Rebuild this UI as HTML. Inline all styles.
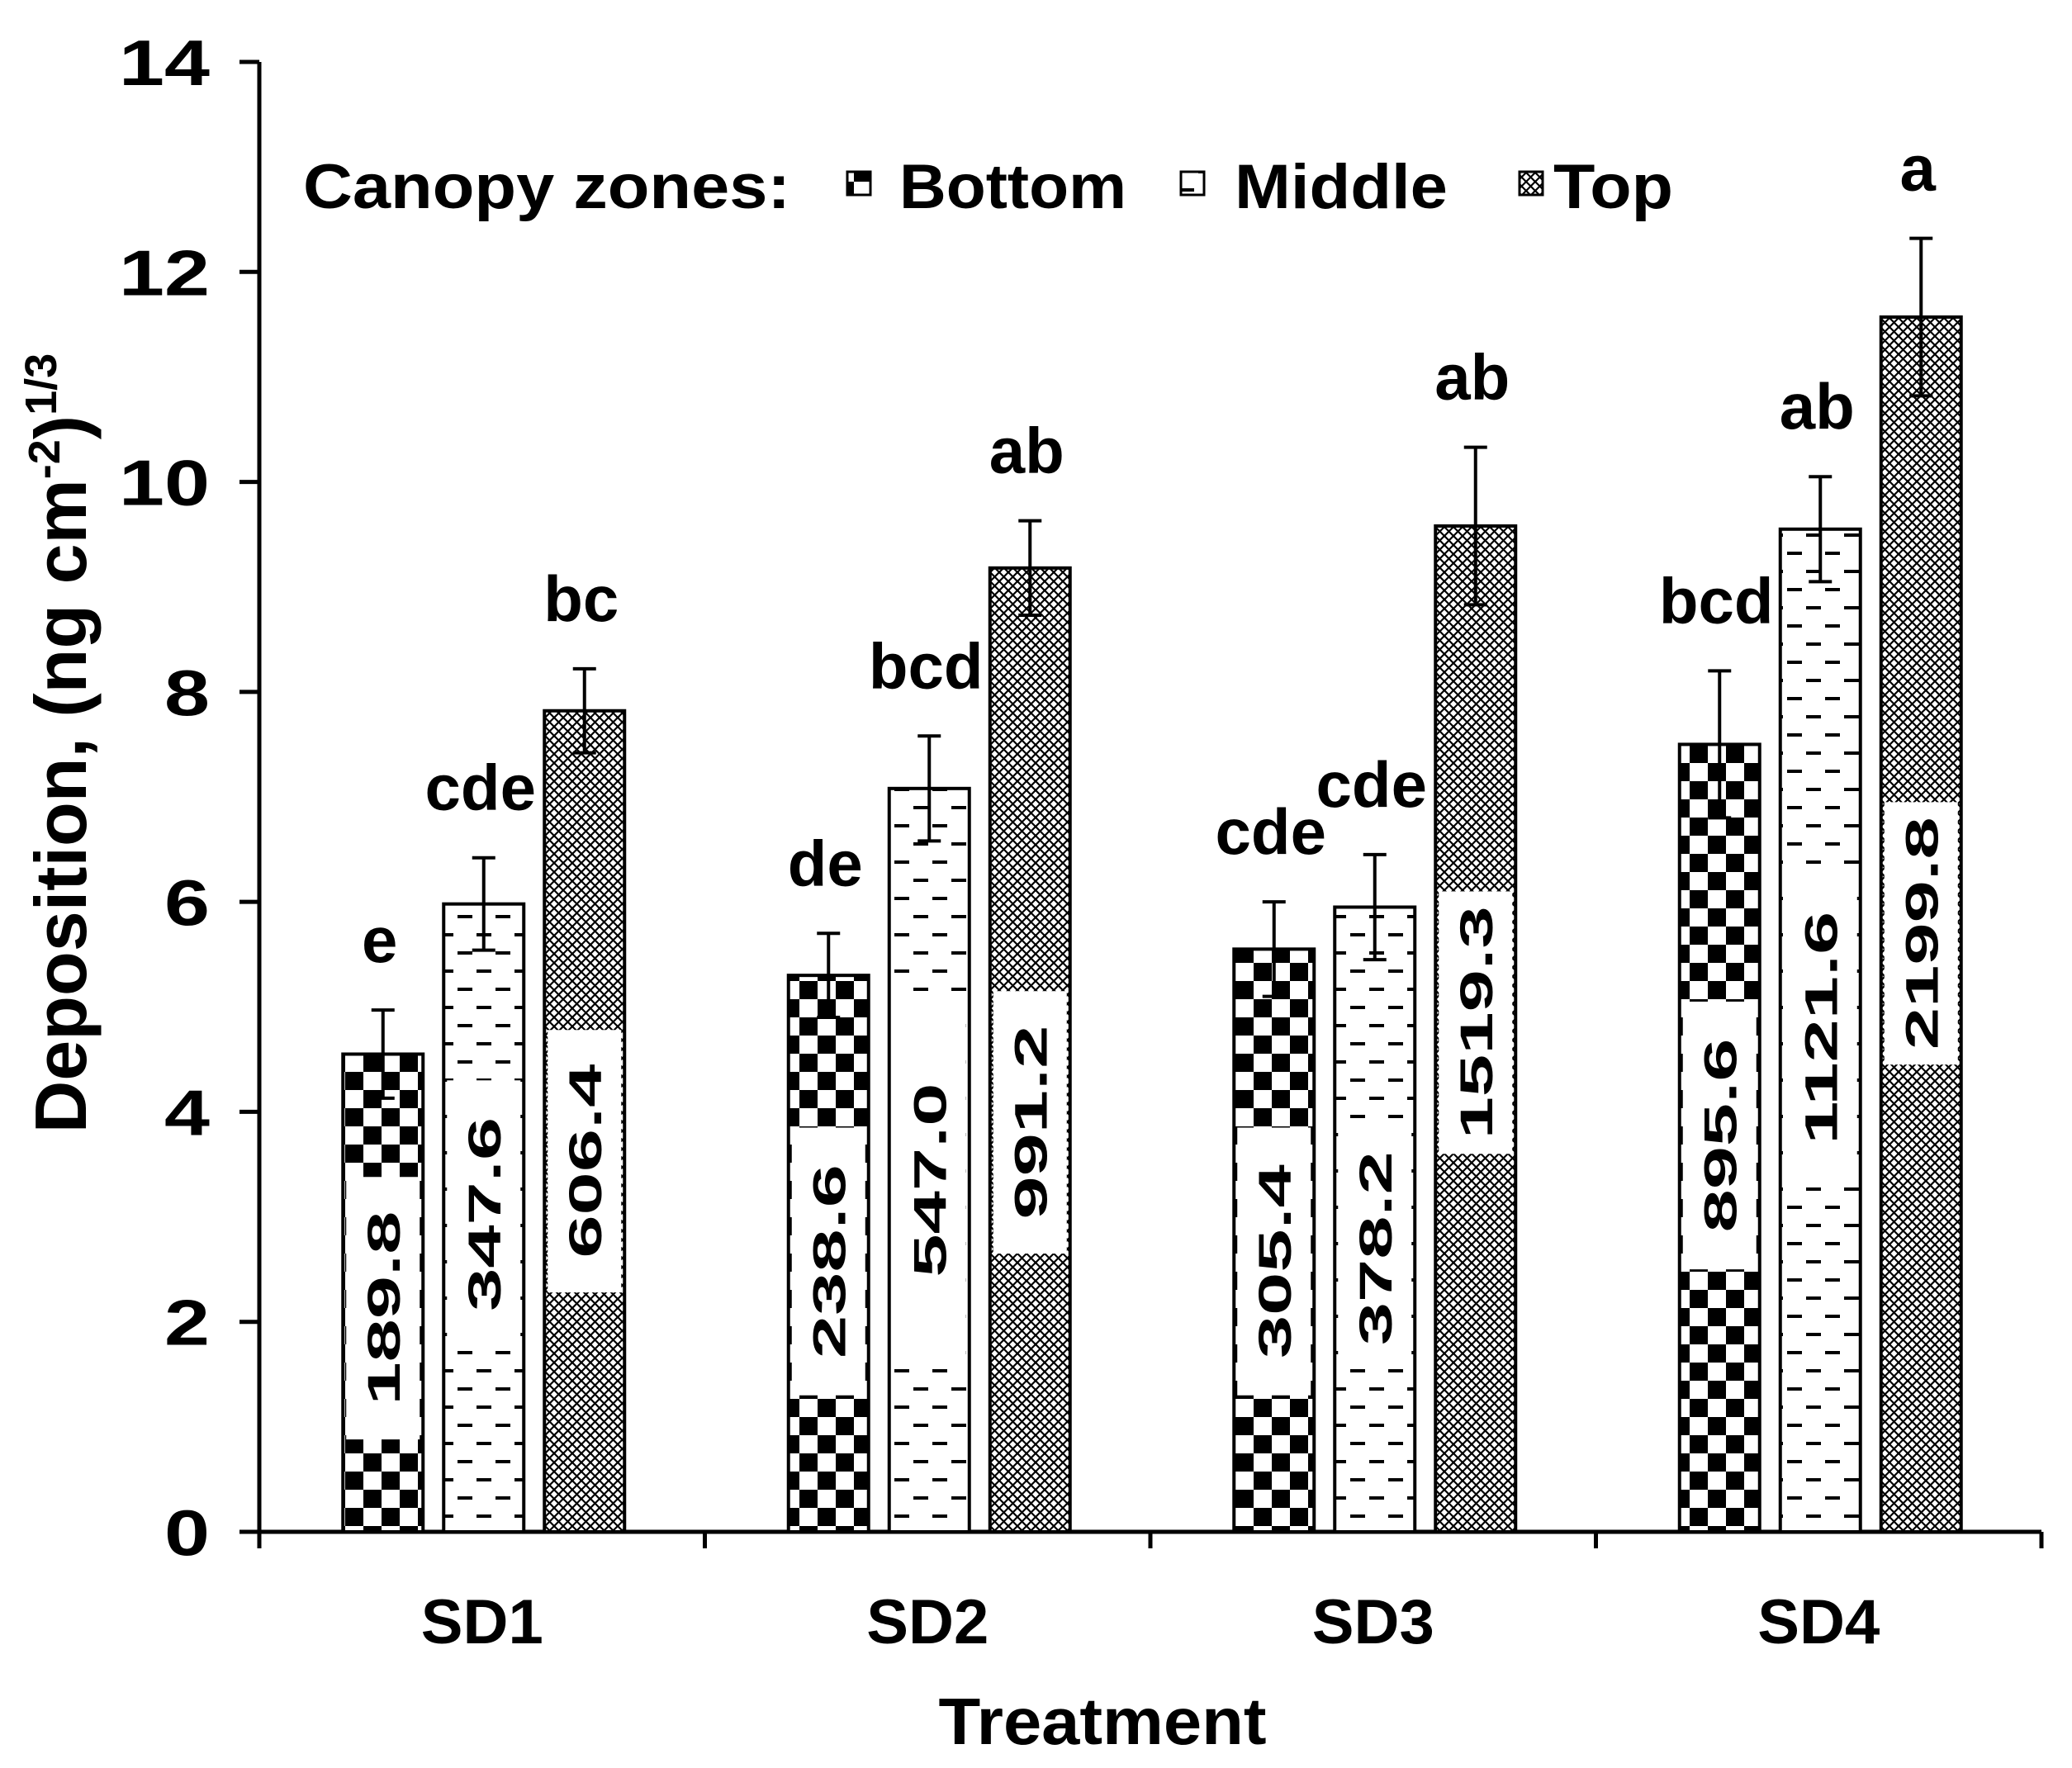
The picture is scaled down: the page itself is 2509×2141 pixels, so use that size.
<!DOCTYPE html>
<html><head><meta charset="utf-8"><style>
html,body{margin:0;padding:0;background:#fff;}
svg{display:block;font-family:"Liberation Sans",Arial,sans-serif;}
</style></head><body>
<svg id="chart" width="2509" height="2141" viewBox="0 0 2509 2141">
<defs>
<pattern id="pBottom" patternUnits="userSpaceOnUse" width="44" height="44">
<rect width="44" height="44" fill="#fff"/><rect width="22" height="22" fill="#000"/><rect x="22" y="22" width="22" height="22" fill="#000"/>
</pattern>
<pattern id="pMiddle" patternUnits="userSpaceOnUse" width="46" height="44">
<rect width="46" height="44" fill="#fff"/><rect x="2" y="8" width="18" height="4" fill="#000"/><rect x="25" y="30" width="18" height="4" fill="#000"/>
</pattern>
<pattern id="pTop" patternUnits="userSpaceOnUse" width="11" height="11">
<rect width="11" height="11" fill="#fff"/><path d="M0 0L11 11M11 0L0 11" stroke="#000" stroke-width="2.2"/>
</pattern>
</defs>
<g id="axes"></g>
<g id="bars"></g>
<g id="legend">
<text x="367" y="252" font-size="76" font-weight="bold" textLength="590" lengthAdjust="spacingAndGlyphs">Canopy zones:</text>
<g><rect x="1026" y="208" width="28" height="28" fill="url(#pBottom)" stroke="#000" stroke-width="3"/><text x="1089" y="252" font-size="76" font-weight="bold" textLength="275" lengthAdjust="spacingAndGlyphs">Bottom</text></g>
<g><rect x="1430" y="208" width="28" height="28" fill="url(#pMiddle)" stroke="#000" stroke-width="3"/><text x="1495" y="252" font-size="76" font-weight="bold" textLength="258" lengthAdjust="spacingAndGlyphs">Middle</text></g>
<g><rect x="1840" y="208" width="28" height="28" fill="url(#pTop)" stroke="#000" stroke-width="3"/><text x="1881" y="252" font-size="76" font-weight="bold" textLength="145" lengthAdjust="spacingAndGlyphs">Top</text></g>
</g>
<text x="1335" y="2112" font-size="80" font-weight="bold" text-anchor="middle" textLength="397" lengthAdjust="spacingAndGlyphs">Treatment</text>
<text transform="translate(104,900) rotate(-90)" font-size="88" font-weight="bold" text-anchor="middle">Deposition, (ng cm<tspan font-size="54" dy="-32">-2</tspan><tspan dy="32">)</tspan><tspan font-size="54" dy="-36">1/3</tspan></text>
</svg>
<script>
const categories = ["SD1","SD2","SD3","SD4"];
const zones = ["bottom","middle","top"];
const bottomVals = [4.55,5.3,5.55,7.5];
const middleVals = [5.98,7.08,5.95,9.55];
const topVals = [7.82,9.18,9.58,11.57];
const bottomErr = [0.42,0.4,0.45,0.7];
const middleErr = [0.44,0.5,0.5,0.5];
const topErr = [0.4,0.45,0.75,0.75];
const bottomLetters = ["e","de","cde","bcd"];
const middleLetters = ["cde","bcd","cde","ab"];
const topLetters = ["bc","ab","ab","a"];
const bottomLabels = ["189.8","238.6","305.4","895.6"];
const middleLabels = ["347.6","547.0","378.2","1121.6"];
const topLabels = ["606.4","991.2","1519.3","2199.8"];
const bottomBoxLo = [0.88,1.3,1.3,2.5];
const bottomBoxHi = [3.38,3.85,3.85,5.05];
const middleBoxLo = [1.75,1.6,1.55,3.3];
const middleBoxHi = [4.3,5.1,3.85,6.3];
const topBoxLo = [2.28,2.65,3.6,4.45];
const topBoxHi = [4.78,5.15,6.1,6.95];
const yTicks = [0,2,4,6,8,10,12,14];

const NS="http://www.w3.org/2000/svg";
const X0=314,X1=2472,Y0=1855,Ytop=75,YMAX=14;
const y=v=>Y0-(v/YMAX)*(Y0-Ytop);
const groupW=(X1-X0)/categories.length;
const barW=97,pitch=122;
const xCenter=i=>X0+groupW*(i+0.5)+2;
function mk(tag,attrs,parent){const e=document.createElementNS(NS,tag);for(const k in attrs)e.setAttribute(k,attrs[k]);parent.appendChild(e);return e;}
const axes=document.getElementById('axes'), bars=document.getElementById('bars');
let a=mk('line',{x1:X0,y1:Ytop,x2:X0,y2:Y0,stroke:'#000','stroke-width':5},axes);


a=mk('line',{x1:X0,y1:Y0,x2:X1,y2:Y0,stroke:'#000','stroke-width':5},axes);


yTicks.forEach(t=>{
 const l=mk('line',{x1:X0-24,y1:y(t),x2:X0,y2:y(t),stroke:'#000','stroke-width':5},axes);
 
 
 const s=String(t);
 const tx=mk('text',{x:254,y:y(t)+28,'font-size':78,'font-weight':'bold','text-anchor':'end',textLength:s.length*55,lengthAdjust:'spacingAndGlyphs'},axes);
 tx.textContent=s;
 
 
});
for(let i=0;i<=categories.length;i++){
 const l=mk('line',{x1:X0+groupW*i,y1:Y0,x2:X0+groupW*i,y2:Y0+20,stroke:'#000','stroke-width':5},axes);
 
 
}
categories.forEach((c,i)=>{
 const tx=mk('text',{x:X0+groupW*(i+0.5),y:1990,'font-size':76,'font-weight':'bold','text-anchor':'middle',textLength:148,lengthAdjust:'spacingAndGlyphs'},axes);
 tx.textContent=c;
 
 
});
const series=[
 {vals:bottomVals,err:bottomErr,let:bottomLetters,lab:bottomLabels,lo:bottomBoxLo,hi:bottomBoxHi,fill:'url(#pBottom)'},
 {vals:middleVals,err:middleErr,let:middleLetters,lab:middleLabels,lo:middleBoxLo,hi:middleBoxHi,fill:'url(#pMiddle)'},
 {vals:topVals,err:topErr,let:topLetters,lab:topLabels,lo:topBoxLo,hi:topBoxHi,fill:'url(#pTop)'}];
categories.forEach((c,i)=>{
 series.forEach((s,j)=>{
  const cx=xCenter(i)+(j-1)*pitch, x=cx-barW/2;
  const g=mk('g',{},bars);
  
  
  mk('rect',{x:x,y:y(s.vals[i]),width:barW,height:Y0-y(s.vals[i]),fill:s.fill,stroke:'#000','stroke-width':4},g);
  const bx=mk('rect',{x:x+4,y:y(s.hi[i]),width:barW-8,height:y(s.lo[i])-y(s.hi[i]),fill:'#fff'},g);
  
  
  const my=(y(s.lo[i])+y(s.hi[i]))/2;
  const lab=s.lab[i];
  const lt=mk('text',{transform:`translate(${cx+20},${my}) rotate(-90)`,'font-size':56,'font-weight':'bold','text-anchor':'middle',textLength:lab.length*47,lengthAdjust:'spacingAndGlyphs'},g);
  lt.textContent=lab;
  
  
  const yt=y(s.vals[i]+s.err[i]), yb=y(s.vals[i]-s.err[i]);
  const eb=mk('path',{d:`M${cx} ${yb}V${yt}M${cx-14} ${yt}H${cx+14}M${cx-14} ${yb}H${cx+14}`,stroke:'#000','stroke-width':4,fill:'none'},g);
  
  
  const st=mk('text',{x:cx-4,y:yt-58,'font-size':78,'font-weight':'bold','text-anchor':'middle'},g);
  st.textContent=s.let[i];
  
  
 });
});
</script>
</body></html>
